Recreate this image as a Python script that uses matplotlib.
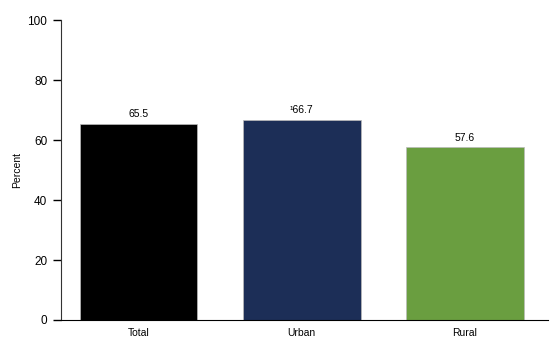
import matplotlib
matplotlib.use('Agg')
import matplotlib.pyplot as plt

categories = ['Total', 'Urban', 'Rural']
values = [65.5, 66.7, 57.6]
labels = ['65.5', '\u00b966.7', '57.6']
colors = ['#000000', '#1c2e57', '#6a9e40']

plt.rcParams['font.family'] = ['Liberation Sans', 'DejaVu Sans']

fig = plt.figure(figsize=(5.6, 3.53), dpi=100)
ax = fig.add_axes([0.109, 0.0935, 0.870, 0.8495])

x = range(len(categories))
bars = ax.bar(x, values, width=0.72, color=colors, edgecolor='#bbbbbb', linewidth=0.5)
for b, lab in zip(bars, labels):
    ax.text(b.get_x() + b.get_width() / 2, b.get_height() + 1.5, lab,
            ha='center', va='bottom', fontsize=7.5)

ax.set_xlim(-0.475, 2.51)
ax.set_ylim(0, 100)
ax.set_yticks(range(0, 101, 20))
ax.set_xticks(list(x))
ax.set_xticklabels(categories)
ax.tick_params(axis='x', length=0, labelsize=7.5, pad=6)
ax.tick_params(axis='y', length=6, width=1, labelsize=8.5, direction='out', pad=4)
ax.set_ylabel('Percent', fontsize=7.5)
ax.yaxis.set_label_coords(-0.08, 0.5)
ax.spines['top'].set_visible(False)
ax.spines['right'].set_visible(False)
ax.spines['left'].set_color('#333333')
ax.spines['bottom'].set_color('#000000')

fig.savefig('out.png', dpi=100)
